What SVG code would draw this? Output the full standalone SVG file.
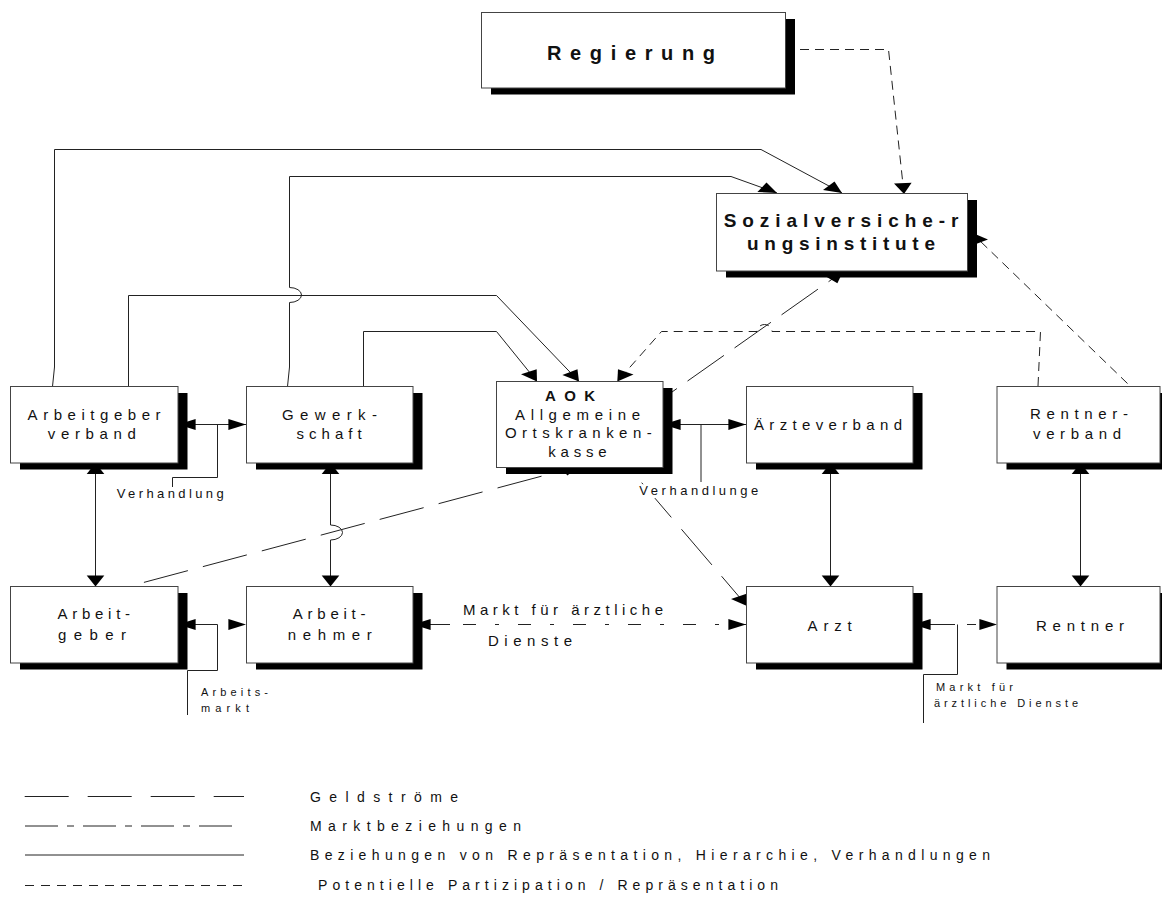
<svg xmlns="http://www.w3.org/2000/svg" width="1162" height="915" viewBox="0 0 1162 915">
<style>
text{font-family:"Liberation Sans",Arial,Helvetica,sans-serif;fill:#111}
.f15{font-size:15px}
.f13{font-size:13px}
.f11{font-size:11px}
.f14{font-size:14px}
.b{font-weight:bold}
.box{fill:#fff;stroke:#444;stroke-width:1}
.sh{fill:#000}
.ln{fill:none;stroke:#222;stroke-width:1}
.pot{stroke-dasharray:9 6}
.ah{fill:#000;stroke:none}
</style>
<defs>
<path id="hr" d="M0,0L-17.6,-5.5L-17.6,5.5Z"/>
<path id="hl" d="M0,0L17.6,-5.5L17.6,5.5Z"/>
<path id="vd" d="M0,0L-8.8,-11L8.8,-11Z"/>
<path id="vu" d="M0,0L-8.8,11L8.8,11Z"/>
</defs>
<rect x="0" y="0" width="1162" height="915" fill="#fff"/>

<g id="connectors">
<g class="ln">
<path d="M52.5,386.5 L54.5,367 V149.5 H761 L842,193"/>
<path d="M287.5,386.5 L289.5,367 V302.5 A12,7.5 0 0 0 289.5,287.5 V176.5 H731 L777,193"/>
<path d="M128.5,386.5 V295.5 H496.5 L579,381.5"/>
<path d="M363.5,386.5 V331.5 H496.5 L537,381.5"/>
<path class="pot" d="M1038,386 L1040.5,331.5 H772 A7.5,7 0 0 0 757,331.5 H661.5 L617.3,381.5"/>
<path class="pot" d="M1127.5,383.5 L978,239"/>
<path class="pot" d="M800,49.5 H888.5 L904,194"/>
<path d="M672,392 L843,271.5" stroke-dasharray="6,13,44.5,13,44.5,13,44.5,13,40"/>
<path d="M541.5,476.2 L141.6,583" stroke-dasharray="45.5,15.5"/>
<path d="M641.7,482.7 L747,606" stroke-dasharray="2,18.3,25.3,15.6,46.9,14.9,40"/>
<path d="M178,424.5 H246"/>
<path d="M217.5,424.5 V477.5 H172.5 V487"/>
<path d="M663,424.5 H746"/>
<path d="M701,424.5 V482"/>
<path d="M95.5,463 V586.5"/>
<path d="M330.5,463 V525 A12,7.5 0 0 1 330.5,540 V586.5"/>
<path d="M830.5,463 V586.5"/>
<path d="M1080.5,463 V586.5"/>
<path d="M178,624.5 H217.5 V670.5 H187.5 V715"/>
<path d="M413,624.5 H746" stroke-dasharray="37,13,13,19,4,19,13,19,4,19,13,19,4,19,13,19,4,19,13,19,4,19,40"/>
<path d="M957.5,624.5 V674.5 H923.5 V723"/>
<path d="M913,624.5 H997" stroke-dasharray="42,12,9,40"/>
</g>
<g class="ah">
<polygon points="842,193 823,190 834.5,181.6"/>
<polygon points="777,193 757.4,192 766.5,182.6"/>
<polygon points="904,194 894,183.4 911.6,182.7"/>
<polygon points="579,381.5 562.4,374.9 577.5,369.2"/>
<polygon points="537,381.5 521,374.3 536.7,369.2"/>
<polygon points="617.3,381.5 618,369.2 633.5,374.5"/>
<polygon points="975,234 988,239.5 976,244"/>
<polygon points="843,271.5 837.4,283.3 824.6,275.8"/>
<polygon points="580,466 567.3,475.4 560.4,465.2"/>
<polygon points="747,606 731,598.9 746.5,593.7"/>
<use href="#hl" x="178" y="424.5"/>
<use href="#hr" x="246" y="424.5"/>
<use href="#hl" x="663" y="424.5"/>
<use href="#hr" x="746" y="424.5"/>
<use href="#hl" x="178" y="624.5"/>
<use href="#hr" x="246" y="624.5"/>
<use href="#hl" x="413" y="624.5"/>
<use href="#hr" x="746" y="624.5"/>
<use href="#hl" x="913" y="624.5"/>
<use href="#hr" x="997" y="624.5"/>
<use href="#vu" x="95.5" y="463"/>
<use href="#vd" x="95.5" y="586.5"/>
<use href="#vu" x="330.5" y="463"/>
<use href="#vd" x="330.5" y="586.5"/>
<use href="#vu" x="830.5" y="463"/>
<use href="#vd" x="830.5" y="586.5"/>
<use href="#vu" x="1080.5" y="463"/>
<use href="#vd" x="1080.5" y="586.5"/>
</g>
</g>

<g id="labels">
<text class="f13" x="116.7" y="497.7" textLength="107" lengthAdjust="spacing">Verhandlung</text>
<text class="f13" x="639.3" y="495" textLength="119" lengthAdjust="spacing">Verhandlunge</text>
<text class="f15" x="463" y="615" textLength="200" lengthAdjust="spacing">Markt für ärztliche</text>
<text class="f15" x="488" y="646" textLength="84" lengthAdjust="spacing">Dienste</text>
<text class="f11" x="201" y="696" textLength="67" lengthAdjust="spacing">Arbeits-</text>
<text class="f11" x="201" y="711.7" textLength="48" lengthAdjust="spacing">markt</text>
<text class="f11" x="936" y="690.7" textLength="77" lengthAdjust="spacing">Markt für</text>
<text class="f11" x="934" y="706.7" textLength="144" lengthAdjust="spacing">ärztliche Dienste</text>
</g>

<g id="regierung">
<rect class="sh" x="491" y="19" width="304" height="75.5"/>
<rect class="box" x="481.5" y="12.5" width="304" height="75.5"/>
<text class="b" font-size="20" x="547" y="60" textLength="168" lengthAdjust="spacing">Regierung</text>
</g>
<g id="sozialversicherungsinstitute">
<rect class="sh" x="726" y="200" width="251" height="77.5"/>
<rect class="box" x="716.5" y="193.5" width="251" height="77.5"/>
<text class="b" font-size="19" x="723.7" y="227.3" textLength="234.7" lengthAdjust="spacing">Sozialversiche-r</text>
<text class="b" font-size="19" x="747" y="250" textLength="188" lengthAdjust="spacing">ungsinstitute</text>
</g>
<g id="arbeitgeberverband">
<rect class="sh" x="20" y="393" width="167.5" height="76.5"/>
<rect class="box" x="10.5" y="386.5" width="167.5" height="76.5"/>
<text class="f15" x="27.6" y="420" textLength="133" lengthAdjust="spacing">Arbeitgeber</text>
<text class="f15" x="47.8" y="439" textLength="88" lengthAdjust="spacing">verband</text>
</g>
<g id="gewerkschaft">
<rect class="sh" x="256" y="393" width="166.5" height="76.5"/>
<rect class="box" x="246.5" y="386.5" width="166.5" height="76.5"/>
<text class="f15" x="282" y="420" textLength="95" lengthAdjust="spacing">Gewerk-</text>
<text class="f15" x="296.6" y="439" textLength="65" lengthAdjust="spacing">schaft</text>
</g>
<g id="aok">
<rect class="sh" x="506" y="388" width="166.5" height="86"/>
<rect class="box" x="496.5" y="381.5" width="166.5" height="86"/>
<text class="f15 b" x="545" y="401" textLength="50" lengthAdjust="spacing">AOK</text>
<text class="f15" x="515" y="420" textLength="125" lengthAdjust="spacing">Allgemeine</text>
<text class="f15" x="505" y="438.3" textLength="146.7" lengthAdjust="spacing">Ortskranken-</text>
<text class="f15" x="548.3" y="457.3" textLength="58.4" lengthAdjust="spacing">kasse</text>
</g>
<g id="aerzteverband">
<rect class="sh" x="756" y="393" width="166.5" height="76.5"/>
<rect class="box" x="746.5" y="386.5" width="166.5" height="76.5"/>
<text class="f15" x="754" y="429.5" textLength="148" lengthAdjust="spacing">Ärzteverband</text>
</g>
<g id="rentnerverband">
<rect class="sh" x="1006.5" y="393" width="163" height="76.5"/>
<rect class="box" x="997" y="386.5" width="163" height="76.5"/>
<text class="f15" x="1030" y="419.3" textLength="98" lengthAdjust="spacing">Rentner-</text>
<text class="f15" x="1033" y="439.3" textLength="88" lengthAdjust="spacing">verband</text>
</g>
<g id="arbeitgeber">
<rect class="sh" x="20" y="593" width="167.5" height="76.5"/>
<rect class="box" x="10.5" y="586.5" width="167.5" height="76.5"/>
<text class="f15" x="57.4" y="619" textLength="72.7" lengthAdjust="spacing">Arbeit-</text>
<text class="f15" x="58" y="640" textLength="68" lengthAdjust="spacing">geber</text>
</g>
<g id="arbeitnehmer">
<rect class="sh" x="256" y="593" width="166.5" height="76.5"/>
<rect class="box" x="246.5" y="586.5" width="166.5" height="76.5"/>
<text class="f15" x="292.8" y="619" textLength="72.7" lengthAdjust="spacing">Arbeit-</text>
<text class="f15" x="287.8" y="640" textLength="84" lengthAdjust="spacing">nehmer</text>
</g>
<g id="arzt">
<rect class="sh" x="756" y="593" width="166.5" height="76.5"/>
<rect class="box" x="746.5" y="586.5" width="166.5" height="76.5"/>
<text class="f15" x="807.6" y="631" textLength="44" lengthAdjust="spacing">Arzt</text>
</g>
<g id="rentner">
<rect class="sh" x="1006.5" y="593" width="163" height="76.5"/>
<rect class="box" x="997" y="586.5" width="163" height="76.5"/>
<text class="f15" x="1036" y="631" textLength="88" lengthAdjust="spacing">Rentner</text>
</g>

<g id="legend">
<g class="ln">
<path d="M24.7,796.5 H244" stroke-dasharray="44,19"/>
<path d="M25,826 H232" stroke-dasharray="33,9,7,9"/>
<path d="M25,855 H244"/>
<path d="M25,885.5 H244" stroke-dasharray="9,7"/>
</g>
<text class="f14" x="310" y="801.7" textLength="148" lengthAdjust="spacing">Geldströme</text>
<text class="f14" x="310" y="830.7" textLength="211" lengthAdjust="spacing">Marktbeziehungen</text>
<text class="f14" x="310" y="859.5" textLength="680" lengthAdjust="spacing">Beziehungen von Repräsentation, Hierarchie, Verhandlungen</text>
<text class="f14" x="318" y="890" textLength="460" lengthAdjust="spacing">Potentielle Partizipation / Repräsentation</text>
</g>
</svg>
